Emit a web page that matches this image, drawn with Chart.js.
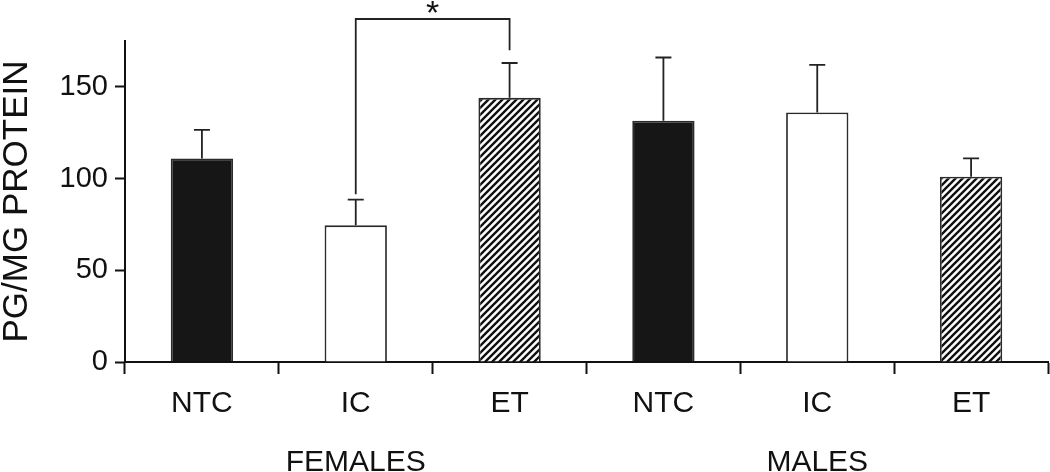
<!DOCTYPE html>
<html lang="en">
<head>
    <meta charset="UTF-8">
    <title>PG/MG Protein</title>
    <script src="https://cdn.jsdelivr.net/npm/chart.js"></script>
    <style>
        body { margin: 0; background: #fff; }
        #wrap { width: 1050px; height: 472px; }
    </style>
</head>
<body>
    <div id="wrap"><canvas id="chart" width="1050" height="472"></canvas></div>

    <script>
        // values
        const categories = ["NTC", "IC", "ET", "NTC", "IC", "ET"];
        const groups = ["", "FEMALES", "", "", "MALES", ""];
        const means = [111, 74.5, 144, 131.5, 136, 101];
        const upper = [126.5, 88.5, 163, 166, 162, 111];
        const yTicks = [0, 50, 100, 150];
        // significance bracket between female IC and ET
        const bracket = { from: 1, to: 2, top: 187, leftEnd: 91.5, rightEnd: 170, starY: 194 };

        function hatch() {
            const c = document.createElement("canvas");
            c.width = 7; c.height = 7;
            const g = c.getContext("2d");
            g.fillStyle = "#fff";
            g.fillRect(0, 0, 7, 7);
            g.strokeStyle = "#111";
            g.lineWidth = 2.4;
            g.beginPath();
            g.moveTo(-1, 8); g.lineTo(8, -1);
            g.moveTo(-1, 1); g.lineTo(1, -1);
            g.moveTo(6, 8); g.lineTo(8, 6);
            g.stroke();
            return g.createPattern(c, "repeat");
        }

        const ctx = document.getElementById("chart").getContext("2d");
        const pat = hatch();
        const fills = categories.map(c => c === "NTC" ? "#161616" : c === "IC" ? "#ffffff" : pat);

        const errorBars = {
            id: "errorBars",
            afterDatasetsDraw(chart) {
                const g = chart.ctx;
                const y = chart.scales.y;
                const meta = chart.getDatasetMeta(0);
                g.save();
                g.strokeStyle = "#222";
                g.lineWidth = 1.8;
                meta.data.forEach((bar, i) => {
                    const top = y.getPixelForValue(upper[i]);
                    g.beginPath();
                    g.moveTo(bar.x, bar.y);
                    g.lineTo(bar.x, top);
                    g.moveTo(bar.x - 8, top);
                    g.lineTo(bar.x + 8, top);
                    g.stroke();
                });
                // bracket
                const x1 = meta.data[bracket.from].x, x2 = meta.data[bracket.to].x;
                const yt = y.getPixelForValue(bracket.top);
                g.beginPath();
                g.moveTo(x1, y.getPixelForValue(bracket.leftEnd));
                g.lineTo(x1, yt);
                g.lineTo(x2, yt);
                g.lineTo(x2, y.getPixelForValue(bracket.rightEnd));
                g.stroke();
                g.fillStyle = "#111";
                g.font = "34px 'Liberation Sans', Arial, sans-serif";
                g.textAlign = "center";
                g.textBaseline = "alphabetic";
                g.fillText("*", (x1 + x2) / 2, y.getPixelForValue(bracket.starY) + 18);
                g.restore();
            }
        };

        new Chart(ctx, {
            type: "bar",
            data: {
                labels: categories,
                datasets: [{
                    data: means,
                    backgroundColor: fills,
                    borderColor: "#2a2a2a",
                    borderWidth: 1.8,
                    categoryPercentage: 1,
                    barPercentage: 0.405
                }]
            },
            options: {
                responsive: false,
                animation: false,
                layout: { padding: { top: 41, right: 2, left: 0, bottom: 0 } },
                plugins: { legend: { display: false }, tooltip: { enabled: false } },
                scales: {
                    x: {
                        offset: true,
                        grid: { display: true, drawOnChartArea: false, offset: true, tickLength: 12, tickWidth: 2, tickColor: "#111" },
                        border: { display: true, color: "#111", width: 2 },
                        ticks: { color: "#111", padding: 12, font: { family: "'Liberation Sans', Arial, sans-serif", size: 30 } },
                        afterFit(s) { s.height = 60; }
                    },
                    x2: {
                        type: "category",
                        position: "bottom",
                        weight: 1,
                        labels: groups,
                        offset: true,
                        grid: { display: false, drawTicks: false },
                        border: { display: false },
                        ticks: { color: "#111", padding: 23, autoSkip: false, maxRotation: 0, font: { family: "'Liberation Sans', Arial, sans-serif", size: 30 } },
                        afterFit(s) { s.height = 50; }
                    },
                    y: {
                        min: 0,
                        max: 175,
                        grid: { display: true, drawOnChartArea: false, tickLength: 10, tickWidth: 2, tickColor: "#111" },
                        border: { display: true, color: "#111", width: 2 },
                        afterBuildTicks(s) { s.ticks = yTicks.map(v => ({ value: v })); },
                        ticks: { color: "#111", padding: 7, font: { family: "'Liberation Sans', Arial, sans-serif", size: 29 } },
                        title: {
                            display: true,
                            text: "PG/MG PROTEIN",
                            color: "#111",
                            padding: 0,
                            font: { family: "'Liberation Sans', Arial, sans-serif", size: 35, lineHeight: 1 }
                        },
                        afterFit(s) { s.width = 125; }
                    }
                }
            },
            plugins: [errorBars]
        });
    </script>
</body>
</html>
